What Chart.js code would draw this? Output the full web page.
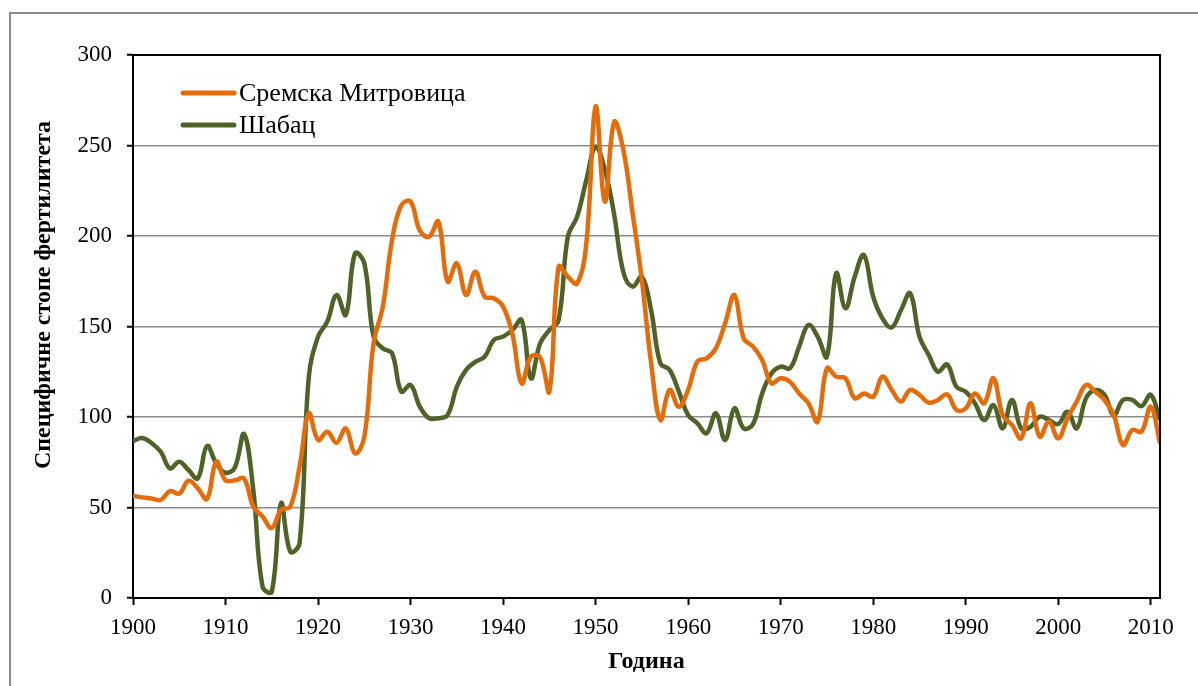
<!DOCTYPE html>
<html>
<head>
<meta charset="utf-8">
<script src="https://cdn.jsdelivr.net/npm/chart.js@4.4.0/dist/chart.umd.min.js"></script>
<style>
  body { margin: 0; background: #fff; }
  #wrap { position: relative; width: 1198px; height: 686px; overflow: hidden; }
  #frame { position: absolute; left: 9px; top: 12px; width: 1300px; height: 800px;
           border-left: 2px solid #8c8c8c; border-top: 2px solid #8c8c8c; }
  canvas { position: absolute; left: 0; top: 0; }
</style>
</head>
<body>
<div id="wrap">
  <div id="frame"></div>
  <canvas id="chart" width="1198" height="686"></canvas>
</div>
<script>
// ---- Data ----
const years = [];
for (let y = 1900; y <= 2011; y++) years.push(y);

const xTickYears = [1900, 1910, 1920, 1930, 1940, 1950, 1960, 1970, 1980, 1990, 2000, 2010];

const seriesNames = ['Сремска Митровица', 'Шабац'];

const sremskaMitrovica = [
  56.5, 55.6, 55, 54.2, 59, 57.7, 64.8, 60.6, 54.7, 75.3,        // 1900-1909
  65, 65, 66, 50.5, 45, 38.7, 48.6, 50.5, 72.5, 102,             // 1910-1919
  87.3, 91.9, 85.8, 93.7, 79.9, 89, 140.7, 161, 197.8, 217,      // 1920-1929
  219, 203, 199.6, 208, 174.8, 184.9, 167.4, 180.3, 166.5, 165.6, // 1930-1939
  161, 146, 118.6, 133.3, 133, 114, 183, 177.5, 173.8, 196,      // 1940-1949
  271.5, 219, 263, 247.5, 212.5, 175.7, 129.7, 98.3, 115, 105.7, // 1950-1959
  115, 130.6, 132.4, 138, 151.8, 167.4, 143.5, 139, 131.5, 118.6, // 1960-1969
  121.4, 119.5, 113, 107.6, 97.4, 126.9, 122.3, 121.4, 110.3, 113, // 1970-1979
  111.2, 122.3, 115, 108.5, 115, 112.2, 107.9, 109.4, 112.5, 103.9, // 1980-1989
  104.8, 113, 107.6, 121.4, 101, 95.6, 88.2, 107.6, 89.1, 97.4,  // 1990-1999
  88.2, 99.3, 108.5, 117.7, 114, 109.4, 101, 84.5, 92.8, 91.9,   // 2000-2009
  105.7, 85.5                                                    // 2010-2011
];

const sabac = [
  86.7, 88.4, 85.6, 80.8, 71.6, 75.3, 70.7, 66.1, 84, 74.4,      // 1900-1909
  69.2, 72, 90.6, 59.7, 6.3, 3.5, 52.3, 25.6, 30.2, 122,         // 1910-1919
  144.4, 152.7, 167.4, 156.4, 190.4, 184.9, 144.4, 137.9, 135.2, 114, // 1920-1929
  117.7, 105.7, 99.3, 99.3, 101, 116.7, 126, 130.5, 133.3, 142.5, // 1930-1939
  144.4, 148, 153.6, 121.4, 140.7, 148, 153.6, 199.6, 210.7, 231, // 1940-1949
  249.3, 236.5, 212, 180, 172, 177.5, 159, 129.7, 126, 114,      // 1950-1959
  101, 96.5, 91, 102, 87.3, 104.8, 93.7, 96, 113, 124,           // 1960-1969
  127.8, 126.9, 138.9, 150.8, 144.4, 133.3, 179.4, 160, 177.5, 189.5, // 1970-1979
  166.5, 154.5, 149.5, 159, 168.3, 144.4, 134.3, 125, 129, 116.7, // 1980-1989
  114, 107.6, 98.3, 106.6, 93.7, 109.4, 93.7, 94.6, 100.2, 98.3, // 1990-1999
  96.1, 102.9, 93.7, 110.3, 114.9, 112.2, 101, 109.4, 109.4, 106, // 2000-2009
  112.2, 98.3                                                    // 2010-2011
];

const colors = ['#e46c0a', '#4f6228'];
const serif = "'Liberation Serif', 'Times New Roman', serif";

function toPoints(vals) {
  return vals.map((v, i) => ({ x: years[i], y: v }));
}

// ---- Extra drawing: plot frame, legend, y title ----
const extras = {
  id: 'extras',
  afterDraw(chart) {
    const { ctx, chartArea: a } = chart;
    ctx.save();
    // top + right frame of the plot
    ctx.strokeStyle = '#000';
    ctx.lineWidth = 2;
    ctx.beginPath();
    ctx.moveTo(a.left, a.top);
    ctx.lineTo(a.right, a.top);
    ctx.lineTo(a.right, a.bottom);
    ctx.stroke();

    // legend
    ctx.font = '26px ' + serif;
    ctx.textBaseline = 'middle';
    ctx.fillStyle = '#000';
    seriesNames.forEach((name, i) => {
      const y = a.top + 38 + i * 32;
      ctx.strokeStyle = colors[i];
      ctx.lineWidth = 5;
      ctx.lineCap = 'round';
      ctx.beginPath();
      ctx.moveTo(a.left + 50, y);
      ctx.lineTo(a.left + 101, y);
      ctx.stroke();
      ctx.fillText(name, a.left + 106, y + 1);
    });

    // y axis title
    ctx.translate(44, 295);
    ctx.rotate(-Math.PI / 2);
    ctx.font = 'bold 24px ' + serif;
    ctx.textAlign = 'center';
    ctx.fillText('Специфичне стопе фертилитета', 0, 0);
    ctx.restore();
  }
};

new Chart(document.getElementById('chart'), {
  type: 'line',
  data: {
    datasets: [
      { label: seriesNames[0], data: toPoints(sremskaMitrovica), borderColor: colors[0], borderWidth: 4.5, pointRadius: 0, tension: 0.4 },
      { label: seriesNames[1], data: toPoints(sabac), borderColor: colors[1], borderWidth: 4.5, pointRadius: 0, tension: 0.4 }
    ]
  },
  options: {
    responsive: false,
    animation: false,
    layout: { padding: { top: 55, right: 38, left: 0, bottom: 0 } },
    plugins: { legend: { display: false }, tooltip: { enabled: false } },
    scales: {
      x: {
        type: 'linear',
        min: 1900,
        max: 2011,
        afterBuildTicks: scale => { scale.ticks = xTickYears.map(v => ({ value: v })); },
        afterFit: scale => { scale.height = 88; },
        grid: { drawOnChartArea: false, tickLength: 7, tickColor: '#000', tickWidth: 2 },
        border: { color: '#000', width: 2 },
        ticks: { color: '#000', padding: 9, maxRotation: 0, font: { family: serif, size: 23 }, callback: v => String(v) },
        title: { display: true, text: 'Година', color: '#000', font: { family: serif, size: 24, weight: 'bold' }, padding: { top: 0, bottom: 10 } }
      },
      y: {
        min: 0,
        max: 300,
        afterFit: scale => { scale.width = 133; },
        grid: {
          color: ctx => ctx.tick && ctx.tick.value === 300 ? '#000' : '#8c8c8c',
          lineWidth: 1.5,
          tickLength: 6,
          tickColor: '#000',
          tickWidth: 2
        },
        border: { color: '#000', width: 2 },
        ticks: { stepSize: 50, color: '#000', padding: 15, font: { family: serif, size: 23 } }
      }
    }
  },
  plugins: [extras]
});
</script>
</body>
</html>
